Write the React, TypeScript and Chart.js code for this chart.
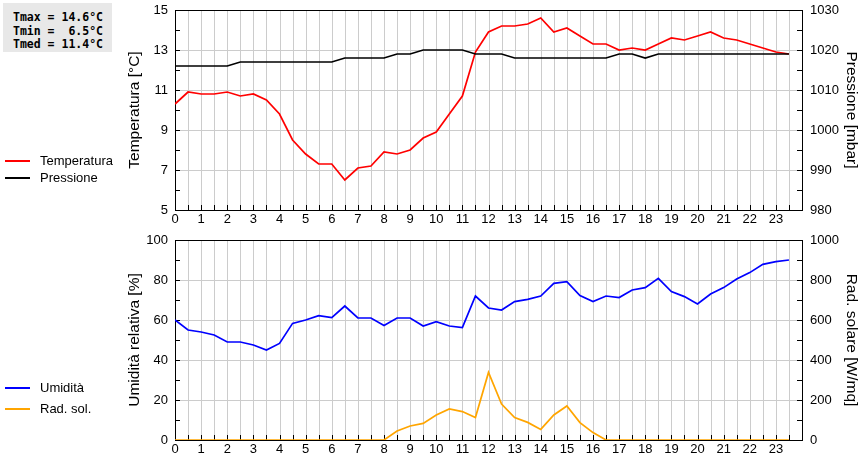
import React, { useEffect, useRef } from "react";
import { Chart, registerables } from "chart.js";

Chart.register(...registerables);

// ---- data ----
const HOURS = [
  0, 0.5, 1, 1.5, 2, 2.5, 3, 3.5, 4, 4.5, 5, 5.5, 6, 6.5, 7, 7.5, 8, 8.5, 9, 9.5, 10, 10.5, 11, 11.5,
  12, 12.5, 13, 13.5, 14, 14.5, 15, 15.5, 16, 16.5, 17, 17.5, 18, 18.5, 19, 19.5, 20, 20.5, 21, 21.5,
  22, 22.5, 23, 23.5,
];
const TEMPERATURE = [
  10.3, 10.9, 10.8, 10.8, 10.9, 10.7, 10.8, 10.5, 9.8, 8.5, 7.8, 7.3, 7.3, 6.5, 7.1, 7.2, 7.9, 7.8, 8.0, 8.6,
  8.9, 9.8, 10.7, 12.9, 13.9, 14.2, 14.2, 14.3, 14.6, 13.9, 14.1, 13.7, 13.3, 13.3, 13.0, 13.1, 13.0, 13.3,
  13.6, 13.5, 13.7, 13.9, 13.6, 13.5, 13.3, 13.1, 12.9, 12.8,
];
const PRESSURE = [
  1016, 1016, 1016, 1016, 1016, 1017, 1017, 1017, 1017, 1017, 1017, 1017, 1017, 1018, 1018, 1018, 1018,
  1019, 1019, 1020, 1020, 1020, 1020, 1019, 1019, 1019, 1018, 1018, 1018, 1018, 1018, 1018, 1018, 1018,
  1019, 1019, 1018, 1019, 1019, 1019, 1019, 1019, 1019, 1019, 1019, 1019, 1019, 1019,
];
const HUMIDITY = [
  60, 55, 54, 52.5, 49, 49, 47.5, 45, 48.3, 58.3, 60, 62.2, 61.2, 67, 61, 61, 57.3, 61, 61, 57, 59.2, 57,
  56.2, 72, 66, 65, 69.2, 70.3, 72, 78.3, 79.2, 72.2, 69.2, 72, 71.2, 75, 76.2, 80.8, 74.2, 71.7, 68, 73,
  76.2, 80.5, 83.7, 87.8, 89.2, 90,
];
const RADIATION = [
  0, 0, 0, 0, 0, 0, 0, 0, 0, 0, 0, 0, 0, 0, 0, 0, 0, 45, 70, 83, 125, 155, 142, 112, 338, 180, 112, 88, 53,
  125, 170, 87, 37, 0, 0, 0, 0, 0, 0, 0, 0, 0, 0, 0, 0, 0, 0, 0,
];
const X_TICK_LABELS = [
  "0", "1", "2", "3", "4", "5", "6", "7", "8", "9", "10", "11", "12", "13", "14", "15", "16", "17", "18",
  "19", "20", "21", "22", "23",
];
const STATS = ["Tmax = 14.6°C", "Tmin =  6.5°C", "Tmed = 11.4°C"];

const FONT = "'Liberation Sans', Arial, sans-serif";
const GRID = "#cccccc";

function makeFramePlugin(every: number, leftMin: number) {
  return {
    id: "frameTicks",
    beforeDatasetsDraw(chart: any) {
      const { ctx, chartArea: a, scales } = chart;
      const L = Math.round(a.left);
      const R = Math.round(a.right);
      const T = Math.round(a.top);
      const B = Math.round(a.bottom);
      const x = scales.x;
      const yl = scales.y;
      const yr = scales.y1;
      ctx.save();
      // grid
      ctx.strokeStyle = GRID;
      ctx.lineWidth = 1;
      ctx.beginPath();
      x.ticks.forEach((t: any) => {
        const px = Math.round(x.getPixelForValue(t.value)) + 0.5;
        ctx.moveTo(px, T);
        ctx.lineTo(px, B);
      });
      yl.ticks.forEach((t: any) => {
        if (Math.abs((t.value - leftMin) % every) > 1e-9) return;
        const py = Math.round(yl.getPixelForValue(t.value)) + 0.5;
        ctx.moveTo(L, py);
        ctx.lineTo(R, py);
      });
      ctx.stroke();
      // inward tick marks
      ctx.strokeStyle = "#000";
      ctx.beginPath();
      x.ticks.forEach((t: any) => {
        const px = Math.round(x.getPixelForValue(t.value)) + 0.5;
        ctx.moveTo(px, B);
        ctx.lineTo(px, B - 5);
      });
      yl.ticks.forEach((t: any) => {
        const py = Math.round(yl.getPixelForValue(t.value)) + 0.5;
        ctx.moveTo(L, py);
        ctx.lineTo(L + 5, py);
      });
      yr.ticks.forEach((t: any) => {
        const py = Math.round(yr.getPixelForValue(t.value)) + 0.5;
        ctx.moveTo(R, py);
        ctx.lineTo(R - 5, py);
      });
      ctx.stroke();
      ctx.strokeRect(L + 0.5, T + 0.5, R - L, B - T);
      ctx.restore();
    },
  };
}

type AxisSpec = { min: number; max: number; step: number; every: number; title: string };

function makeOptions(left: AxisSpec, right: AxisSpec): any {
  const tickFont = { family: FONT, size: 13 };
  const titleFont = { family: FONT, size: 15.5 };
  return {
    responsive: false,
    animation: false,
    layout: { padding: { left: 120, top: 10, right: 0, bottom: 0 } },
    plugins: { legend: { display: false }, tooltip: { enabled: false } },
    elements: { point: { radius: 0 }, line: { borderWidth: 1.7, tension: 0 } },
    scales: {
      x: {
        type: "linear",
        min: 0,
        max: 24,
        afterFit: (s: any) => {
          s.height = 20;
          s.paddingLeft = 0;
          s.paddingRight = 0;
        },
        ticks: {
          stepSize: 0.5,
          maxTicksLimit: 100,
          autoSkip: false,
          maxRotation: 0,
          padding: 2,
          color: "#000",
          font: tickFont,
          callback: (v: number) => (Number.isInteger(v) && v < 24 ? X_TICK_LABELS[v] : ""),
        },
        grid: { display: false, drawTicks: false },
        border: { display: false },
      },
      y: {
        type: "linear",
        position: "left",
        min: left.min,
        max: left.max,
        afterFit: (s: any) => {
          s.width = 55;
          s.paddingTop = 0;
          s.paddingBottom = 0;
        },
        ticks: {
          stepSize: left.step,
          maxTicksLimit: 100,
          autoSkip: false,
          padding: 7,
          color: "#000",
          font: tickFont,
          callback: (v: number) => ((v - left.min) % left.every === 0 ? String(v) : ""),
        },
        grid: { display: false, drawTicks: false },
        border: { display: false },
        title: {
          display: true,
          text: left.title,
          color: "#000",
          font: titleFont,
          padding: { top: 5, bottom: 0 },
        },
      },
      y1: {
        type: "linear",
        position: "right",
        min: right.min,
        max: right.max,
        afterFit: (s: any) => {
          s.width = 58;
          s.paddingTop = 0;
          s.paddingBottom = 0;
        },
        ticks: {
          stepSize: right.step,
          maxTicksLimit: 100,
          autoSkip: false,
          padding: 8,
          color: "#000",
          font: tickFont,
          callback: (v: number) => ((v - right.min) % right.every === 0 ? String(v) : ""),
        },
        grid: { display: false, drawTicks: false },
        border: { display: false },
        title: {
          display: true,
          text: right.title,
          color: "#000",
          font: titleFont,
          padding: { top: -1, bottom: 0 },
        },
      },
    },
  };
}

function toPoints(values: number[]) {
  return HOURS.map((h, i) => ({ x: h, y: values[i] }));
}

const TOP_LEFT: AxisSpec = { min: 5, max: 15, step: 1, every: 2, title: "Temperatura [°C]" };
const TOP_RIGHT: AxisSpec = { min: 980, max: 1030, step: 5, every: 10, title: "Pressione [mbar]" };
const BOT_LEFT: AxisSpec = { min: 0, max: 100, step: 10, every: 20, title: "Umidità relativa [%]" };
const BOT_RIGHT: AxisSpec = { min: 0, max: 1000, step: 100, every: 200, title: "Rad. solare [W/mq]" };

function TopChart() {
  const ref = useRef<HTMLCanvasElement>(null);
  useEffect(() => {
    const chart = new Chart(ref.current as HTMLCanvasElement, {
      type: "line",
      data: {
        datasets: [
          { label: "Pressione", data: toPoints(PRESSURE), borderColor: "#000000", yAxisID: "y1" },
          { label: "Temperatura", data: toPoints(TEMPERATURE), borderColor: "#ff0000", yAxisID: "y" },
        ],
      },
      options: makeOptions(TOP_LEFT, TOP_RIGHT),
      plugins: [makeFramePlugin(TOP_LEFT.every, TOP_LEFT.min)],
    } as any);
    return () => chart.destroy();
  }, []);
  return <canvas ref={ref} width={860} height={230} style={{ display: "block" }} />;
}

function BottomChart() {
  const ref = useRef<HTMLCanvasElement>(null);
  useEffect(() => {
    const chart = new Chart(ref.current as HTMLCanvasElement, {
      type: "line",
      data: {
        datasets: [
          { label: "Umidità", data: toPoints(HUMIDITY), borderColor: "#0000ff", yAxisID: "y" },
          { label: "Rad. sol.", data: toPoints(RADIATION), borderColor: "#ffa500", yAxisID: "y1" },
        ],
      },
      options: makeOptions(BOT_LEFT, BOT_RIGHT),
      plugins: [makeFramePlugin(BOT_LEFT.every, BOT_LEFT.min)],
    } as any);
    return () => chart.destroy();
  }, []);
  return <canvas ref={ref} width={860} height={230} style={{ display: "block" }} />;
}

function LegendItem({ top, color, label }: { top: number; color: string; label: string }) {
  return (
    <div style={{ position: "absolute", left: 0, top: top - 10, height: 20, width: 120 }}>
      <div
        style={{ position: "absolute", left: 5, top: 9, width: 25, height: 2, background: color }}
      />
      <div
        style={{
          position: "absolute",
          left: 40,
          top: 0,
          height: 20,
          lineHeight: "20px",
          fontFamily: FONT,
          fontSize: 13,
          color: "#000",
          whiteSpace: "nowrap",
        }}
      >
        {label}
      </div>
    </div>
  );
}

export default function App() {
  return (
    <div
      style={{
        position: "absolute",
        left: 0,
        top: 0,
        width: 860,
        height: 460,
        background: "#fff",
        overflow: "hidden",
      }}
    >
      <div style={{ position: "absolute", left: 0, top: 0 }}>
        <TopChart />
      </div>
      <div style={{ position: "absolute", left: 0, top: 230 }}>
        <BottomChart />
      </div>
      <div
        style={{
          position: "absolute",
          left: 3,
          top: 3,
          width: 109,
          height: 49,
          background: "#e8e8e8",
          boxSizing: "border-box",
          paddingLeft: 10,
          paddingTop: 8,
          fontFamily: "'DejaVu Sans Mono', monospace",
          fontWeight: "bold",
          fontSize: 11.5,
          lineHeight: "13.5px",
          color: "#000",
          whiteSpace: "pre",
        }}
      >
        {STATS.map((s) => (
          <div key={s}>{s}</div>
        ))}
      </div>
      <LegendItem top={161} color="#ff0000" label="Temperatura" />
      <LegendItem top={178} color="#000000" label="Pressione" />
      <LegendItem top={388} color="#0000ff" label="Umidità" />
      <LegendItem top={409} color="#ffa500" label="Rad. sol." />
    </div>
  );
}
